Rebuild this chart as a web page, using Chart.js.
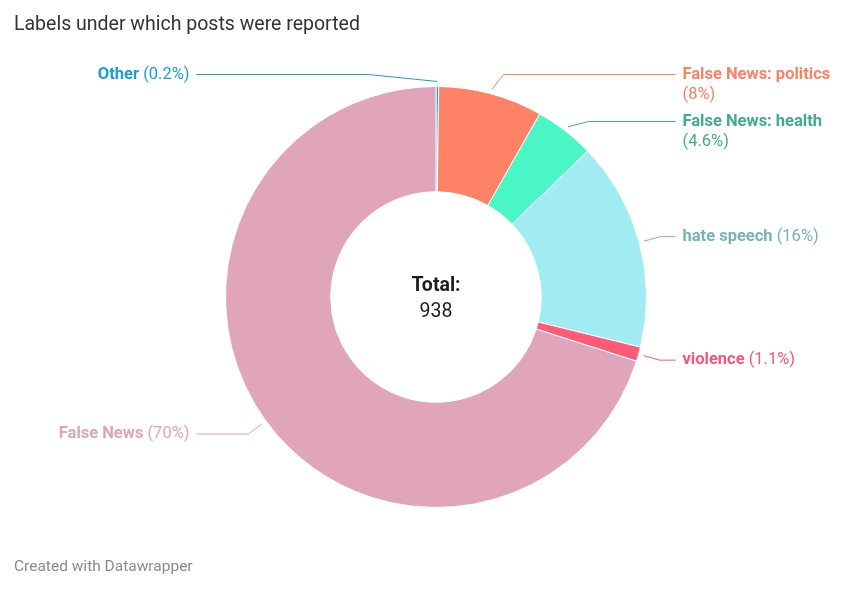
<!DOCTYPE html>
<html><head><meta charset="utf-8">
<script src="https://cdn.jsdelivr.net/npm/chart.js@4.4.1/dist/chart.umd.min.js"></script>
<style>
html,body{margin:0;padding:0;background:#fff;}
#wrap{position:relative;width:844px;height:591px;overflow:hidden;}
#title{position:absolute;left:14px;top:12px;font:19.5px Roboto,"Noto Sans",sans-serif;color:#333;line-height:24px;}
#footer{position:absolute;left:14px;top:556px;font:15.5px Roboto,"Noto Sans",sans-serif;color:#8a8a8a;line-height:20px;}
canvas{position:absolute;left:0;top:0;}
</style></head><body>
<div id="wrap">
<canvas id="c"></canvas>
<div id="title">Labels under which posts were reported</div>
<div id="footer">Created with Datawrapper</div>
</div>
<script>
const categories = ['Other', 'False News: politics', 'False News: health', 'hate speech', 'violence', 'False News'];
const shares = [0.2, 8, 4.6, 16, 1.1, 70];
const shareLabels = ['0.2%', '8%', '4.6%', '16%', '1.1%', '70%'];
const sliceColors = ['#1d9fd2', '#ff8266', '#4af5c6', '#a0ecf2', '#ff5a78', '#e1a5bb'];
const labelColors = ['#1a9fd0', '#ff8060', '#3dae88', '#78b3b4', '#ff5573', '#e0a3b9'];
const totalTitle = 'Total:';
const totalValue = '938';

const FONT = 'Roboto, "Noto Sans", sans-serif';

const labelPlugin = {
  id: 'dwLabels',
  afterDatasetsDraw(chart) {
    const ctx = chart.ctx;
    const arcs = chart.getDatasetMeta(0).data;
    if (!arcs.length) return;
    const cx = arcs[0].x, cy = arcs[0].y, R = arcs[0].outerRadius;
    const anchorR = R + 5, elbowR = R + 22, colR = R + 29, textGap = 7;
    const lineH = 20, gap = 7;
    const boldF = 'bold 16.5px ' + FONT, normF = '16.5px ' + FONT;
    const items = arcs.map((a, i) => {
      const mid = (a.startAngle + a.endAngle) / 2;
      const side = Math.cos(mid) > 0.05 ? 1 : -1;
      const textX = cx + side * (colR + textGap);
      ctx.font = boldF; const wName = ctx.measureText(categories[i] + ' ').width;
      ctx.font = normF; const wPct = ctx.measureText('(' + shareLabels[i] + ')').width;
      const maxW = side > 0 ? chart.width - 10 - textX : textX - 10;
      const wrap = wName + wPct > maxW;
      let y = cy + Math.sin(mid) * elbowR;
      y = Math.max(y, cy - R - 12);
      return {i, mid, side, textX, wName, wPct, wrap, y, lines: wrap ? 2 : 1};
    });
    [1, -1].forEach(s => {
      const list = items.filter(it => it.side === s).sort((a, b) => a.y - b.y);
      for (let k = 1; k < list.length; k++) {
        const prev = list[k - 1];
        const minY = prev.y + prev.lines * lineH + gap;
        if (list[k].y < minY) list[k].y = minY;
      }
    });
    ctx.save();
    items.forEach(it => {
      const col = labelColors[it.i];
      const ax = cx + Math.cos(it.mid) * anchorR, ay = cy + Math.sin(it.mid) * anchorR;
      const dy = it.y - cy;
      const ex = cx + it.side * Math.sqrt(Math.max(0, elbowR * elbowR - dy * dy));
      const lx = cx + it.side * colR;
      ctx.strokeStyle = col; ctx.lineWidth = 1;
      ctx.beginPath(); ctx.moveTo(ax, ay); ctx.lineTo(ex, it.y); ctx.lineTo(lx, it.y); ctx.stroke();
      ctx.fillStyle = col; ctx.textBaseline = 'middle'; ctx.textAlign = 'left';
      const name = categories[it.i], pct = '(' + shareLabels[it.i] + ')';
      if (it.wrap) {
        const x1 = it.side > 0 ? it.textX : it.textX - it.wName;
        ctx.font = boldF; ctx.fillText(name, x1, it.y);
        const x2 = it.side > 0 ? it.textX : it.textX - it.wPct;
        ctx.font = normF; ctx.fillText(pct, x2, it.y + lineH);
      } else {
        const total = it.wName + it.wPct;
        const x0 = it.side > 0 ? it.textX : it.textX - total;
        ctx.font = boldF; ctx.fillText(name + ' ', x0, it.y);
        ctx.font = normF; ctx.fillText(pct, x0 + it.wName, it.y);
      }
    });
    ctx.fillStyle = '#1d1d1d'; ctx.textAlign = 'center'; ctx.textBaseline = 'middle';
    ctx.font = 'bold 19.5px ' + FONT; ctx.fillText(totalTitle, cx, cy - 11);
    ctx.font = '19.5px ' + FONT; ctx.fillText(totalValue, cx, cy + 15);
    ctx.restore();
  }
};

new Chart(document.getElementById('c'), {
  type: 'doughnut',
  data: {
    labels: categories,
    datasets: [{
      data: shares,
      backgroundColor: sliceColors,
      borderColor: '#ffffff',
      borderWidth: 1,
      hoverOffset: 0
    }]
  },
  options: {
    responsive: true,
    maintainAspectRatio: false,
    animation: false,
    cutout: '50%',
    layout: { padding: { top: 86, bottom: 83, left: 225, right: 197 } },
    plugins: { legend: { display: false }, tooltip: { enabled: false }, title: { display: false } },
    events: []
  },
  plugins: [labelPlugin]
});
</script>
</body></html>
